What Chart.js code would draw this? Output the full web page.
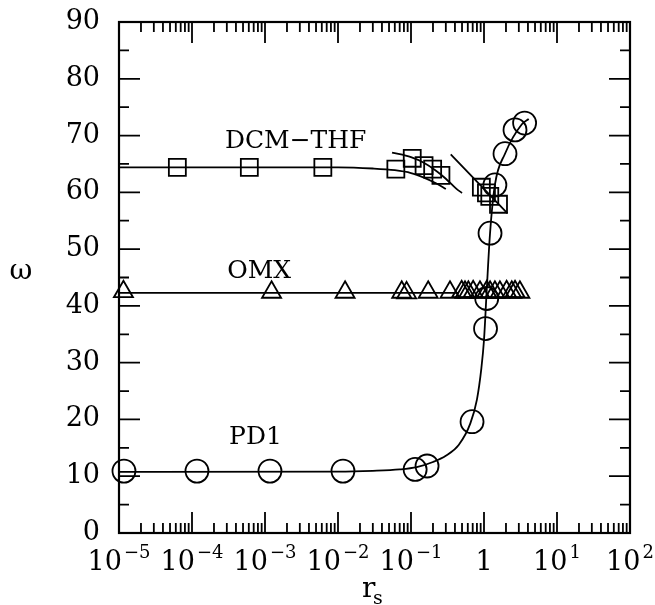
<!DOCTYPE html>
<html>
<head>
<meta charset="utf-8">
<script src="https://cdn.jsdelivr.net/npm/chart.js@4.4.0/dist/chart.umd.min.js"></script>
<style>
  html, body { margin: 0; padding: 0; background: #fff; }
  #chart { display: block; }
</style>
</head>
<body>
<canvas id="chart" width="655" height="605"></canvas>
<script>
const pd1X = [1.17e-5, 1.17e-4, 1.17e-3, 1.17e-2, 0.114, 0.166, 0.686, 1.05, 1.09, 1.21, 1.41, 1.94, 2.66, 3.6];
const pd1Y = [10.9, 10.9, 10.9, 10.9, 11.2, 11.8, 19.6, 36.0, 41.3, 52.8, 61.3, 66.8, 71.0, 72.2];

const dcmX = [6.3e-5, 6.1e-4, 6.2e-3, 0.062, 0.104, 0.151, 0.198, 0.257, 0.92, 1.08, 1.2, 1.58];
const dcmY = [64.4, 64.4, 64.4, 64.1, 66.0, 64.7, 64.1, 63.0, 60.9, 59.9, 59.3, 57.9];

const omxX = [1.15e-5, 1.23e-3, 0.0125, 0.0746, 0.087, 0.172, 0.342, 0.494, 0.549, 0.61, 0.71, 0.88, 1.09, 1.21, 1.41, 1.65, 2.04, 2.4, 2.66, 3.1];
const omxY = [42.5, 42.4, 42.4, 42.4, 42.3, 42.4, 42.4, 42.5, 42.4, 42.4, 42.5, 42.4, 42.5, 42.4, 42.4, 42.4, 42.5, 42.4, 42.5, 42.4];

// fitted curves
const pd1FitX = [1e-5, 0.01, 0.03, 0.07, 0.12, 0.2, 0.3, 0.45, 0.65, 0.8, 0.92, 1.0, 1.09, 1.21, 1.41, 1.94, 3.3, 4.1];
const pd1FitY = [10.75, 10.8, 10.95, 11.2, 11.6, 12.5, 13.6, 15.5, 19.3, 23.5, 29, 34, 42.8, 52.8, 61.3, 66.8, 72.0, 72.9];

const dcmFitX = [1e-5, 0.01, 0.03, 0.06, 0.1, 0.15, 0.22, 0.3];
const dcmFitY = [64.4, 64.4, 64.2, 63.9, 63.4, 62.6, 61.6, 60.6];

const dcmArcX = [0.055, 0.1, 0.15, 0.22, 0.3, 0.42, 0.5];
const dcmArcY = [67.0, 66.2, 65.2, 63.8, 62.4, 60.6, 59.9];

const dcmSlopeX = [0.35, 2.1];
const dcmSlopeY = [66.7, 56.3];

const omxFitX = [1e-5, 0.45];
const omxFitY = [42.3, 42.3];

// axis ticks
const yTicks = [0, 10, 20, 30, 40, 50, 60, 70, 80, 90];
const yMinorTicks = [5, 15, 25, 35, 45, 55, 65, 75, 85];
const xDecades = [-5, -4, -3, -2, -1, 0, 1, 2];
const xExpLabels = ['−5', '−4', '−3', '−2', '−1', '', '1', '2'];

const toPoints = (xs, ys) => xs.map((x, i) => ({ x: x, y: ys[i] }));

const serif = '"DejaVu Serif", "Liberation Serif", serif';

const markerSet = (data, style, radius) => ({
  data: data,
  showLine: false,
  pointStyle: style,
  pointRadius: radius,
  pointBorderColor: '#000',
  pointBackgroundColor: 'rgba(0,0,0,0)',
  pointBorderWidth: 1.8,
  clip: false
});

const curveSet = (data) => ({
  data: data,
  showLine: true,
  pointRadius: 0,
  borderColor: '#000',
  borderWidth: 1.8,
  cubicInterpolationMode: 'monotone',
  fill: false
});

// frame, inward ticks and labels
const axesBox = {
  id: 'axesBox',
  afterDraw(chart) {
    const { ctx, chartArea: a, scales: { x, y } } = chart;
    ctx.save();
    ctx.strokeStyle = '#000';
    ctx.lineWidth = 2.2;
    ctx.strokeRect(a.left, a.top, a.right - a.left, a.bottom - a.top);

    ctx.lineWidth = 1.8;
    ctx.beginPath();
    yTicks.forEach(v => {
      const py = y.getPixelForValue(v);
      ctx.moveTo(a.left, py); ctx.lineTo(a.left + 21, py);
      ctx.moveTo(a.right, py); ctx.lineTo(a.right - 21, py);
    });
    yMinorTicks.forEach(v => {
      const py = y.getPixelForValue(v);
      ctx.moveTo(a.left, py); ctx.lineTo(a.left + 10, py);
      ctx.moveTo(a.right, py); ctx.lineTo(a.right - 10, py);
    });
    xDecades.forEach(d => {
      const px = x.getPixelForValue(Math.pow(10, d));
      ctx.moveTo(px, a.bottom); ctx.lineTo(px, a.bottom - 21);
      ctx.moveTo(px, a.top); ctx.lineTo(px, a.top + 21);
      if (d < 2) {
        for (let k = 2; k <= 9; k++) {
          const mx = x.getPixelForValue(k * Math.pow(10, d));
          ctx.moveTo(mx, a.bottom); ctx.lineTo(mx, a.bottom - 10);
          ctx.moveTo(mx, a.top); ctx.lineTo(mx, a.top + 10);
        }
      }
    });
    ctx.stroke();

    ctx.fillStyle = '#000';
    // y tick labels
    ctx.font = '27px ' + serif;
    ctx.textAlign = 'right';
    ctx.textBaseline = 'middle';
    yTicks.forEach(v => {
      ctx.fillText(String(v), a.left - 19, y.getPixelForValue(v));
    });

    // x tick labels: 10 with raised exponent
    ctx.textAlign = 'left';
    ctx.textBaseline = 'alphabetic';
    const base = a.bottom + 37;
    xDecades.forEach((d, i) => {
      const px = x.getPixelForValue(Math.pow(10, d));
      const mant = d === 0 ? '1' : '10';
      const exp = xExpLabels[i];
      ctx.font = '27px ' + serif;
      const w1 = ctx.measureText(mant).width;
      ctx.font = '18px ' + serif;
      const w2 = exp ? ctx.measureText(exp).width + 2 : 0;
      const start = px - (w1 + w2) / 2;
      ctx.font = '27px ' + serif;
      ctx.fillText(mant, start, base);
      if (exp) {
        ctx.font = '18px ' + serif;
        ctx.fillText(exp, start + w1 + 2, base - 12);
      }
    });

    // axis titles
    ctx.font = '28px ' + serif;
    ctx.textAlign = 'center';
    ctx.textBaseline = 'middle';
    ctx.fillText('ω', 21, (a.top + a.bottom) / 2 - 6);

    ctx.textAlign = 'left';
    ctx.textBaseline = 'alphabetic';
    ctx.font = '28px ' + serif;
    ctx.fillText('r', 362, 597);
    ctx.font = '19px ' + serif;
    ctx.fillText('s', 373, 604);

    // series names
    ctx.font = '25px ' + serif;
    ctx.textAlign = 'center';
    ctx.fillText('DCM−THF', x.getPixelForValue(Math.pow(10, -2.58)), y.getPixelForValue(69.4) + 9);
    ctx.fillText('OMX', x.getPixelForValue(Math.pow(10, -3.08)), y.getPixelForValue(46.5) + 9);
    ctx.fillText('PD1', x.getPixelForValue(Math.pow(10, -3.13)), y.getPixelForValue(17.3) + 9);
    ctx.restore();
  }
};

const ctx = document.getElementById('chart').getContext('2d');
const chart = new Chart(ctx, {
  type: 'scatter',
  data: {
    datasets: [
      curveSet(toPoints(pd1FitX, pd1FitY)),
      curveSet(toPoints(dcmFitX, dcmFitY)),
      curveSet(toPoints(dcmArcX, dcmArcY)),
      curveSet(toPoints(dcmSlopeX, dcmSlopeY)),
      curveSet(toPoints(omxFitX, omxFitY)),
      markerSet(toPoints(pd1X, pd1Y), 'circle', 11.5),
      markerSet(toPoints(dcmX, dcmY), 'rect', 12),
      markerSet(toPoints(omxX, omxY), 'triangle', 11)
    ]
  },
  options: {
    responsive: false,
    animation: false,
    layout: { padding: { left: 119, right: 25, top: 22, bottom: 72 } },
    scales: {
      x: { type: 'logarithmic', min: 1e-5, max: 100, display: false },
      y: { type: 'linear', min: 0, max: 90, display: false }
    },
    plugins: {
      legend: { display: false },
      tooltip: { enabled: false }
    }
  },
  plugins: [axesBox]
});
</script>
</body>
</html>
